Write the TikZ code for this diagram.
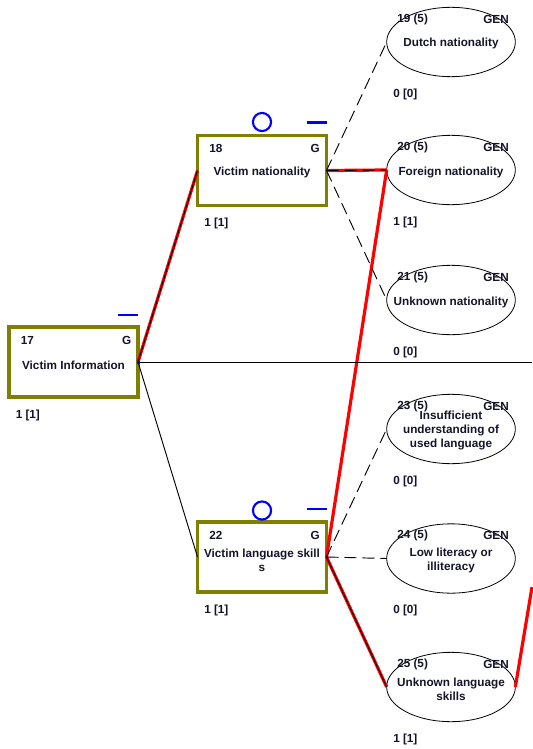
\documentclass[tikz,border=0pt]{standalone}
\usepackage{fontspec}
\setmainfont{Liberation Sans}
\usetikzlibrary{shapes.geometric}
\definecolor{olivec}{RGB}{128,128,0}
\definecolor{txt}{RGB}{20,20,40}
\begin{document}
\begin{tikzpicture}[x=0.75pt,y=-0.75pt,
  gbox/.style={draw=olivec, line width=2.3pt, minimum width=96.75pt, minimum height=52.5pt, inner sep=0, outer sep=0},
  genell/.style={draw, ellipse, line width=0.6pt, minimum width=96.5pt, minimum height=52pt, inner sep=0, outer sep=0},
  lbl/.style={font=\bfseries\fontsize{8.8}{10.8}\selectfont, inner sep=0, text=txt},
  mainlbl/.style={lbl, align=center},
  blk/.style={black, line width=0.7pt},
  dsh/.style={blk, dash pattern=on 9pt off 4.5pt},
  redline/.style={red, line width=2.4pt},
  bluemark/.style={blue, line width=1.6pt}
]
\useasboundingbox (0,0) rectangle (532,749);

% group boxes
\node[gbox] (n17) at (73.5,362) {};
\node[gbox] (n18) at (262,170.5) {};
\node[gbox] (n22) at (262,557) {};

% generic ellipses
\node[genell] (n19) at (451,42) {};
\node[genell] (n20) at (451,170) {};
\node[genell] (n21) at (451,300) {};
\node[genell] (n23) at (451,429) {};
\node[genell] (n24) at (451,558.5) {};
\node[genell] (n25) at (451,687) {};

% exits
\coordinate (rightedge) at (532,0);
\coordinate (exitB) at (532,587);

% red path
\draw[redline] (n17.east) -- (n18.west);
\draw[redline] (n18.east) -- (n20.west);
\draw[redline] (n20.west) -- (n22.east);
\draw[redline] (n22.east) -- (n25.west);
\draw[redline] (n25.east) -- (exitB);

% black connectors
\draw[blk] (n17.east) -- (n18.west);
\draw[blk] (n17.east) -- (n22.west);
\draw[blk] (n17.east) -- (n17.east -| rightedge);
\draw[dsh] (n18.east) -- (n19.west);
\draw[dsh] (n18.east) -- (n20.west);
\draw[dsh] (n18.east) -- (n21.west);
\draw[dsh] (n22.east) -- (n23.west);
\draw[dsh] (n22.east) -- (n24.west);
\draw[blk] (n22.east) -- (n25.west);

% small blue square at 17
\fill[blue] ([shift={(-1,-1.5)}]n17.east) rectangle ([shift={(2,1.5)}]n17.east);

% blue marks
\draw[bluemark] (n17.north east) ++(-20,-12) coordinate (m17a) -- ++(20,0) coordinate (m17b);
\draw[bluemark] (262,122) circle[radius=6.8pt];
\draw[bluemark] (n18.north east) ++(-20,-13) coordinate (m18a) -- ++(20,0) coordinate (m18b);
\draw[bluemark] (262,510.5) circle[radius=6.8pt];
\draw[bluemark] (n22.north east) ++(-20,-13) coordinate (m22a) -- ++(20,0) coordinate (m22b);

% box labels
\foreach \n/\t in {17/17,18/18,22/22}{
  \node[lbl, anchor=west] (num\n) at ([shift={(-53,-22)}]n\n.center) {\t};
  \node[lbl, anchor=east] (g\n) at ([shift={(58,-22)}]n\n.center) {G};
  \node[lbl, anchor=west] (cnt\n) at ([shift={(-58,53)}]n\n.center) {1 [1]};
}
\node[mainlbl] (t17) at ([shift={(0,3)}]n17.center) {Victim Information};
\node[mainlbl] (t18) at ([shift={(0,2)}]n18.center) {Victim nationality};
\node[mainlbl] (t22) at ([shift={(0,3)}]n22.center) {Victim language skill\\s};

% ellipse labels
\foreach \n/\c in {19/0 [0],20/1 [1],21/0 [0],23/0 [0],24/0 [0],25/1 [1]}{
  \node[lbl, anchor=west] (num\n) at ([shift={(-54,-23)}]n\n.center) {\n{} (5)};
  \node[lbl, anchor=east] (gen\n) at ([shift={(58,-23)}]n\n.center) {GEN};
  \node[lbl, anchor=west] (cnt\n) at ([shift={(-58,52)}]n\n.center) {\c};
}
\node[mainlbl] (t19) at ([shift={(0,1.5)}]n19.center) {Dutch nationality};
\node[mainlbl] (t20) at ([shift={(0,2)}]n20.center) {Foreign nationality};
\node[mainlbl] (t21) at ([shift={(0,2)}]n21.center) {Unknown nationality};
\node[mainlbl] (t23) at ([shift={(0,1.5)}]n23.center) {Insufficient\\understanding of\\used language};
\node[mainlbl] (t24) at ([shift={(0,2)}]n24.center) {Low literacy or\\illiteracy};
\node[mainlbl] (t25) at ([shift={(0,2.5)}]n25.center) {Unknown language\\skills};
\end{tikzpicture}
\end{document}
